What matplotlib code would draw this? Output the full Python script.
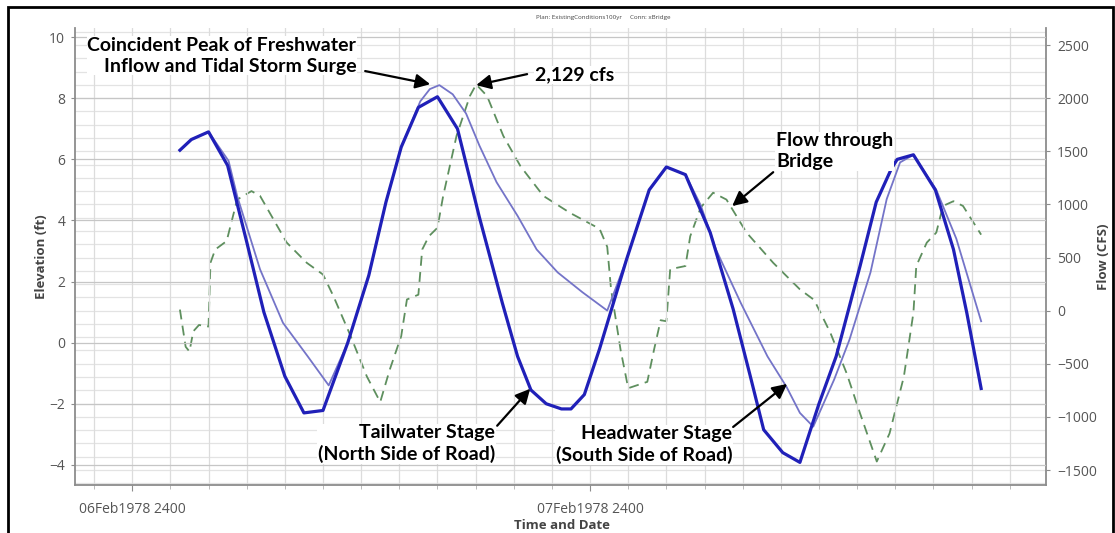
import matplotlib
matplotlib.use("Agg")
import matplotlib.pyplot as plt
from matplotlib.patches import Rectangle
from matplotlib.ticker import MultipleLocator

# Time axis: hours after 06Feb1978 2400
tw_hours = [2.5, 3.1, 4.0, 5.0, 6.0, 6.9, 8.0, 9.0, 10.0, 11.3, 12.4, 13.3, 14.1, 15.0,
            16.0, 17.05, 18.2, 19.4, 20.2, 20.9, 21.7, 22.5, 23.0, 23.7, 24.5, 25.9,
            27.1, 28.0, 29.0, 30.3, 31.5, 32.4, 33.1, 34.1, 35.0, 36.0, 36.9, 38.15,
            39.0, 39.8, 40.1, 40.95, 42.1, 43.05, 43.75, 44.5]
tailwater_ft = [6.3, 6.65, 6.9, 5.8, 3.3, 1.0, -1.1, -2.3, -2.22, 0.0, 2.2, 4.6, 6.4, 7.7,
                8.05, 7.0, 4.1, 1.3, -0.45, -1.55, -2.0, -2.17, -2.17, -1.7, -0.2, 2.7,
                5.0, 5.75, 5.5, 3.6, 1.1, -1.1, -2.85, -3.6, -3.92, -2.0, -0.45, 2.5,
                4.6, 5.7, 6.0, 6.15, 5.0, 3.05, 0.97, -1.5]

hw_hours = [2.5, 3.1, 4.0, 5.05, 5.5, 6.7, 7.9, 9.2, 10.3, 11.3, 12.4, 13.3, 14.1, 15.1,
            15.6, 16.1, 16.8, 17.5, 18.2, 19.1, 20.2, 21.2, 22.3, 23.6, 24.9, 25.9,
            27.1, 28.0, 29.0, 29.8, 30.6, 31.9, 33.3, 34.3, 35.0, 35.7, 36.8, 37.6,
            38.7, 39.55, 40.25, 40.95, 42.15, 43.2, 44.5]
headwater_ft = [6.3, 6.65, 6.9, 5.95, 4.8, 2.4, 0.65, -0.45, -1.4, 0.0, 2.2, 4.6, 6.4, 7.9,
                8.3, 8.43, 8.13, 7.5, 6.45, 5.25, 4.15, 3.05, 2.3, 1.65, 1.05, 2.7,
                5.0, 5.75, 5.5, 4.5, 3.05, 1.3, -0.45, -1.45, -2.3, -2.75, -1.2, 0.1,
                2.3, 4.7, 5.9, 6.15, 5.0, 3.4, 0.7]

q_hours = [2.5, 2.8, 3.0, 3.2, 3.5, 4.0, 4.1, 4.35, 4.95, 5.5, 6.25, 6.7, 8.1, 9.15,
           10.0, 10.55, 11.45, 12.3, 13.0, 13.5, 14.1, 14.4, 15.0, 15.2, 15.55, 16.0,
           16.3, 17.0, 17.7, 18.03, 18.6, 19.45, 20.35, 21.55, 22.95, 24.5, 24.9, 25.1,
           25.6, 26.0, 27.0, 27.35, 27.7, 28.0, 28.2, 29.0, 29.25, 29.8, 30.45, 31.15,
           32.2, 33.6, 35.0, 35.75, 36.6, 37.45, 38.15, 39.03, 39.7, 40.45, 40.95,
           41.1, 41.65, 42.15, 42.5, 43.05, 43.55, 44.5]
flow_cfs = [10, -340, -385, -195, -135, -150, 450, 575, 655, 1045, 1125, 1080, 640, 450,
            340, 135, -240, -620, -860, -555, -240, 105, 150, 575, 700, 780,
            1080, 1645, 2020, 2129, 2020, 1645, 1360, 1080, 920, 770, 600, 200,
            -370, -730, -670, -370, -90, -100, 390, 420, 700, 970, 1110, 1045,
            735, 450, 200, 100, -210, -590, -965, -1420, -1155, -620, -20,
            420, 640, 735, 985, 1030, 985, 715]

peak_flow = 2129
date_ticks = [0, 24]
date_labels = ["06Feb1978 2400", "07Feb1978 2400"]
elev_ticks = [-4, -2, 0, 2, 4, 6, 8, 10]
flow_ticks = [-1500, -1000, -500, 0, 500, 1000, 1500, 2000, 2500]

TICK_FONT = "Open Sans"
NOTE_FONT = "Lato"
TICK_COLOR = "#555555"
AXIS_COLOR = "#8c8c8c"

fig = plt.figure(figsize=(11.15, 5.33), dpi=100)
ax = fig.add_axes([75 / 1115, 1 - 485 / 533, (1046 - 75) / 1115, (485 - 28) / 533])
ax2 = ax.twinx()
ax.set_zorder(2)
ax.patch.set_visible(False)
ax2.set_zorder(1)

ax.set_xlim(-3, 47.9)
ax.set_ylim(-4.66, 10.3)
ax2.set_ylim(-1641, 2660)

# grid
ax.set_xticks(date_ticks)
ax.set_xticklabels(date_labels)
ax.xaxis.set_minor_locator(MultipleLocator(2))
ax.set_yticks(elev_ticks)
ax2.set_yticks(flow_ticks)
ax2.yaxis.set_minor_locator(MultipleLocator(125))
ax.set_axisbelow(True)
ax.grid(axis="x", which="both", color="#dcdcdc", lw=0.9)
ax.grid(axis="y", which="major", color="#c6c6c6", lw=0.9)
ax2.grid(axis="y", which="both", color="#e3e3e3", lw=0.9)

# series
ax2.plot(q_hours, flow_cfs, color="#5e8f5e", lw=1.3, linestyle=(0, (5.5, 3.5)), zorder=3)
ax.plot(hw_hours, headwater_ft, color="#7474c8", lw=1.3, zorder=3)
ax.plot(tw_hours, tailwater_ft, color="#2020b8", lw=2.3, zorder=4)

# axes styling
for s in ("top", "right"):
    ax.spines[s].set_visible(False)
for s in ("top", "left", "bottom"):
    ax2.spines[s].set_visible(False)
ax.spines["left"].set_color(AXIS_COLOR)
ax.spines["bottom"].set_color(AXIS_COLOR)
ax2.spines["right"].set_color(AXIS_COLOR)
for s in (ax.spines["left"], ax.spines["bottom"], ax2.spines["right"]):
    s.set_linewidth(1.3)

ax.tick_params(axis="y", which="major", length=3, color=AXIS_COLOR, pad=4,
               labelsize=10, labelcolor=TICK_COLOR)
ax2.tick_params(axis="y", which="major", length=3, color=AXIS_COLOR, pad=5,
                labelsize=10, labelcolor=TICK_COLOR)
ax2.tick_params(axis="y", which="minor", length=0)
ax.tick_params(axis="x", which="major", length=4, color=AXIS_COLOR, pad=8,
               labelsize=10, labelcolor=TICK_COLOR)
ax.tick_params(axis="x", which="minor", length=3, color="#b0b0b0")
for lab in ax.get_xticklabels() + ax.get_yticklabels() + ax2.get_yticklabels():
    lab.set_fontfamily(TICK_FONT)

label_style = dict(fontfamily=TICK_FONT, fontweight="bold", fontsize=9.5, color="#444444")
ax.set_ylabel("Elevation (ft)", **label_style)
ax2.set_ylabel("Flow (CFS)", **label_style)
ax.set_xlabel("Time and Date", **label_style)
ax.yaxis.set_label_coords(-0.028, 0.5)
ax2.yaxis.set_label_coords(1.053, 0.5)
ax.xaxis.set_label_coords(0.5015, -0.074)

fig.text(0.541, 0.968, "Plan: ExistingConditions100yr     Conn: xBridge",
         fontsize=4.5, color="#444444", ha="center", va="center",
         fontfamily=TICK_FONT)

# callouts
note = dict(fontfamily=NOTE_FONT, fontweight="bold", fontsize=14, color="black",
            linespacing=1.25, zorder=6,
            bbox=dict(facecolor="white", edgecolor="none", pad=0.5))
arrow = dict(arrowstyle="-|>", color="black", lw=1.6, mutation_scale=22,
             shrinkA=0, shrinkB=0)

ax.text(11.74, 9.39, "Coincident Peak of Freshwater\nInflow and Tidal Storm Surge",
        ha="right", va="center", multialignment="right", **note)
ax.annotate("", xy=(15.62, 8.46), xytext=(12.21, 8.89), arrowprops=arrow, zorder=6)

ax.text(21.12, 8.76, f"{peak_flow:,} cfs", ha="left", va="center", **note)
ax.annotate("", xy=(18.03, 8.43), xytext=(20.70, 8.79), arrowprops=arrow, zorder=6)

ax.text(33.75, 6.27, "Flow through\nBridge", ha="left", va="center",
        multialignment="left", **note)
ax.annotate("", xy=(31.45, 4.47), xytext=(33.6, 5.58), arrowprops=arrow, zorder=6)

ax.text(19.03, -3.31, "Tailwater Stage\n(North Side of Road)", ha="right",
        va="center", multialignment="right", **note)
ax.annotate("", xy=(20.86, -1.51), xytext=(19.13, -2.72), arrowprops=arrow, zorder=6)

ax.text(31.45, -3.34, "Headwater Stage\n(South Side of Road)", ha="right",
        va="center", multialignment="right", **note)
ax.annotate("", xy=(34.33, -1.35), xytext=(31.5, -2.76), arrowprops=arrow, zorder=6)

# outer frame
fig.patches.append(Rectangle((8 / 1115, -0.05), (1113 - 8) / 1115, 1.05 - 7 / 533,
                             transform=fig.transFigure, fill=False,
                             edgecolor="black", lw=2.0, clip_on=False))

fig.savefig("out.png", dpi=100)
